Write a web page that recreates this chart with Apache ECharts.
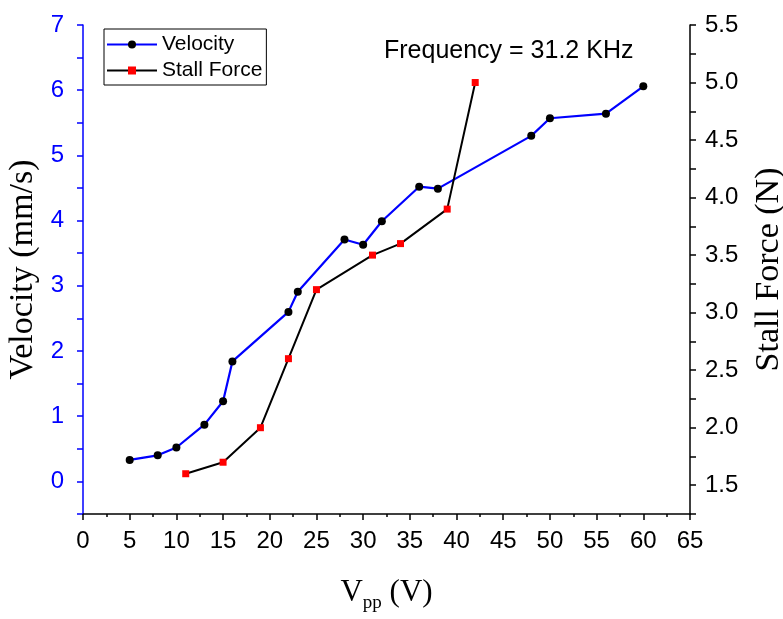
<!DOCTYPE html>
<html><head><meta charset="utf-8">
<script src="https://cdn.jsdelivr.net/npm/echarts@6/dist/echarts.min.js"></script>
<style>html,body{margin:0;padding:0;background:#fff}#c{width:783px;height:619px}</style>
</head><body><div id="c"></div>
<script>
const velocityX = [5, 8, 10, 13, 15, 16, 22, 23, 28, 30, 32, 36, 38, 48, 50, 56, 60];
const velocityY = [0.33, 0.40, 0.52, 0.87, 1.23, 1.84, 2.60, 2.91, 3.71, 3.63, 3.99, 4.52, 4.49, 5.30, 5.57, 5.64, 6.06];
const forceX = [11, 15, 19, 22, 25, 31, 34, 39, 42];
const forceY = [1.6, 1.7, 2.0, 2.6, 3.2, 3.5, 3.6, 3.9, 5.0];
const annotation = 'Frequency = 31.2 KHz';

const chart = echarts.init(document.getElementById('c'), null, {renderer: 'canvas'});
const sans = 'Liberation Sans, Arial, sans-serif';
const serif = 'Liberation Serif, Times New Roman, serif';
chart.setOption({
  animation: false,
  backgroundColor: '#fff',
  grid: {left: 83, right: 93, top: 25, bottom: 105, containLabel: false, outerBoundsMode: 'none'},
  legend: {
    left: 104, top: 29, orient: 'vertical', itemGap: 5, padding: [5, 4, 4, 2],
    borderColor: '#000', borderWidth: 1, itemWidth: 50, itemHeight: 10,
    textStyle: {fontFamily: sans, fontSize: 21, color: '#000'},
    data: ['Velocity', 'Stall Force']
  },
  graphic: [{
    type: 'text', left: 384, top: 39,
    style: {text: annotation, font: '25px ' + sans, fill: '#000'}
  }],
  xAxis: {
    type: 'value', min: 0, max: 65, interval: 5,
    name: '{v|V}{s|pp}{v| (V)}', nameLocation: 'middle', nameGap: 58,
    nameTextStyle: {rich: {
      v: {fontFamily: serif, fontSize: 31, color: '#000'},
      s: {fontFamily: serif, fontSize: 19, color: '#000', verticalAlign: 'bottom', padding: [22, 0, 0, 0]}
    }},
    axisLine: {onZero: false, lineStyle: {color: '#000', width: 1.5}},
    axisTick: {inside: false, length: 6, lineStyle: {color: '#000', width: 1.5}},
    minorTick: {show: true, splitNumber: 2, length: 3, lineStyle: {color: '#000', width: 1.5}},
    axisLabel: {fontFamily: sans, fontSize: 24, color: '#000', margin: 15},
    splitLine: {show: false}
  },
  yAxis: [{
    type: 'value', min: -0.5, max: 7, interval: 0.5, position: 'left',
    name: 'Velocity (mm/s)', nameLocation: 'middle', nameGap: 38,
    nameTextStyle: {fontFamily: serif, fontSize: 34, color: '#000'},
    axisLine: {show: true, onZero: false, lineStyle: {color: '#0000ff', width: 1.5}},
    axisTick: {show: true, length: 6, lineStyle: {color: '#0000ff', width: 1.5}},
    axisLabel: {fontFamily: sans, fontSize: 24, color: '#0000ff', margin: 19,
      formatter: v => (Math.abs(v - Math.round(v)) < 1e-9 && v >= 0) ? String(Math.round(v)) : ''},
    splitLine: {show: false}
  }, {
    type: 'value', min: 1.25, max: 5.5, interval: 0.25, position: 'right',
    name: 'Stall Force (N)', nameLocation: 'middle', nameGap: 62,
    nameTextStyle: {fontFamily: serif, fontSize: 34, color: '#000'},
    axisLine: {show: true, onZero: false, lineStyle: {color: '#000', width: 1.5}},
    axisTick: {show: true, length: 6, lineStyle: {color: '#000', width: 1.5}},
    axisLabel: {fontFamily: sans, fontSize: 24, color: '#000', margin: 15,
      formatter: v => (Math.abs(v * 2 - Math.round(v * 2)) < 1e-9) ? v.toFixed(1) : ''},
    splitLine: {show: false}
  }],
  series: [{
    name: 'Velocity', type: 'line', yAxisIndex: 0,
    data: velocityX.map((x, i) => [x, velocityY[i]]),
    symbol: 'circle', symbolSize: 8,
    lineStyle: {color: '#0000ff', width: 2.2},
    itemStyle: {color: '#000'}
  }, {
    name: 'Stall Force', type: 'line', yAxisIndex: 1,
    data: forceX.map((x, i) => [x, forceY[i]]),
    symbol: 'rect', symbolSize: 7,
    lineStyle: {color: '#000', width: 2},
    itemStyle: {color: '#ff0000'}
  }]
});
</script></body></html>
